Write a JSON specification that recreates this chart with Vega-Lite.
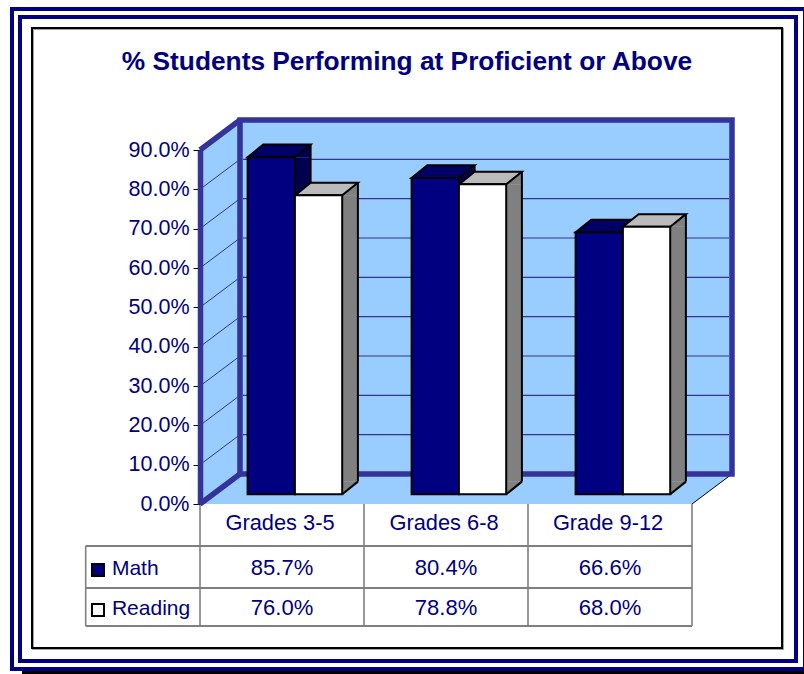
{"$schema":"https://vega.github.io/schema/vega-lite/v6.json","width":492,"height":354,"autosize":{"type":"none"},"padding":{"left":200,"top":150,"right":112,"bottom":170},"background":"white","config":{"view":{"stroke":null},"font":"Liberation Sans"},"title":{"text":"% Students Performing at Proficient or Above","anchor":"middle","dx":-39,"offset":-68,"fontSize":26.3,"fontWeight":"bold","color":"#000080","font":"Liberation Sans"},"datasets":{"bars":[{"grade":"Grades 3-5","series":"Math","value":0.857},{"grade":"Grades 3-5","series":"Reading","value":0.76},{"grade":"Grades 6-8","series":"Math","value":0.804},{"grade":"Grades 6-8","series":"Reading","value":0.788},{"grade":"Grade 9-12","series":"Math","value":0.666},{"grade":"Grade 9-12","series":"Reading","value":0.68}],"ticks":[{"tick":0.1},{"tick":0.2},{"tick":0.3},{"tick":0.4},{"tick":0.5},{"tick":0.6},{"tick":0.7},{"tick":0.8}],"edges":[{"tick":0},{"tick":0.9}],"series":[{"series":"Math"},{"series":"Reading"}],"hlines":[{"edge":1},{"edge":2},{"edge":3}],"vlines":[{"col":0},{"col":1},{"col":2},{"col":3}],"one":[{"n":1}]},"layer":[{"data":{"name":"one"},"mark":{"type":"rect","fill":null,"stroke":"#000080","strokeWidth":4},"encoding":{"x":{"datum":0,"type":"quantitative","scale":{"domain":[0,1],"range":[-188,605]},"axis":null},"x2":{"datum":1},"y":{"datum":0,"type":"quantitative","scale":{"domain":[0,1],"range":[-141,519]},"axis":null},"y2":{"datum":1}}},{"data":{"name":"one"},"mark":{"type":"rect","fill":null,"stroke":"#000080","strokeWidth":4},"encoding":{"x":{"datum":0,"type":"quantitative","scale":{"domain":[0,1],"range":[-180,596]},"axis":null},"x2":{"datum":1},"y":{"datum":0,"type":"quantitative","scale":{"domain":[0,1],"range":[-133,511]},"axis":null},"y2":{"datum":1}}},{"data":{"name":"one"},"mark":{"type":"rect","fill":null,"stroke":"#000000","strokeWidth":3},"encoding":{"x":{"datum":0,"type":"quantitative","scale":{"domain":[0,1],"range":[-178,605]},"axis":null},"x2":{"datum":1},"y":{"datum":0,"type":"quantitative","scale":{"domain":[0,1],"range":[522.5,522.5]},"axis":null},"y2":{"datum":1}}},{"data":{"name":"one"},"mark":{"type":"rect","fill":null,"stroke":"#a0a0a0","strokeWidth":2},"encoding":{"x":{"datum":0,"type":"quantitative","scale":{"domain":[0,1],"range":[-167,583]},"axis":null},"x2":{"datum":1},"y":{"datum":0,"type":"quantitative","scale":{"domain":[0,1],"range":[-121,499]},"axis":null},"y2":{"datum":1}}},{"data":{"name":"one"},"mark":{"type":"rect","fill":null,"stroke":"#000000","strokeWidth":2},"encoding":{"x":{"datum":0,"type":"quantitative","scale":{"domain":[0,1],"range":[-168,582]},"axis":null},"x2":{"datum":1},"y":{"datum":0,"type":"quantitative","scale":{"domain":[0,1],"range":[-122,498]},"axis":null},"y2":{"datum":1}}},{"encoding":{"x":{"datum":0,"type":"quantitative","scale":{"domain":[0,3],"range":[0,492]},"axis":null}},"layer":[{"data":{"name":"one"},"mark":{"type":"point","shape":"M0,0L40,-30L532,-30L492,0Z","size":4,"filled":true,"fill":"#99CCFF","stroke":null,"opacity":1},"encoding":{"y":{"datum":0,"type":"quantitative","scale":{"domain":[0,0.9],"range":[354,0]},"axis":null}}},{"data":{"name":"one"},"mark":{"type":"point","shape":"M0,0L40,-30L40,-384L0,-354Z","size":4,"filled":true,"fill":"#99CCFF","stroke":null,"opacity":1},"encoding":{"y":{"datum":0,"type":"quantitative","axis":null}}},{"data":{"name":"one"},"mark":{"type":"point","shape":"M492,0L532,-30","size":4,"filled":false,"stroke":"#000000","strokeWidth":1,"opacity":1},"encoding":{"y":{"datum":0,"type":"quantitative","axis":null}}},{"data":{"name":"one"},"mark":{"type":"rect","fill":"#99CCFF","stroke":"#333399","strokeWidth":5.5,"xOffset":40,"x2Offset":40,"yOffset":-30,"y2Offset":-30},"encoding":{"x":{"datum":0,"type":"quantitative"},"x2":{"datum":3},"y":{"datum":0,"type":"quantitative","axis":null},"y2":{"datum":0.9}}},{"data":{"name":"ticks"},"mark":{"type":"rule","stroke":"#333399","strokeWidth":1.2,"xOffset":43,"x2Offset":37,"yOffset":-30,"y2Offset":-30},"encoding":{"x2":{"datum":3},"y":{"field":"tick","type":"quantitative","axis":null}}},{"data":{"name":"ticks"},"mark":{"type":"point","shape":"M0,0L40,-30","size":4,"filled":false,"stroke":"#333399","strokeWidth":1,"opacity":1},"encoding":{"y":{"field":"tick","type":"quantitative","axis":null}}},{"data":{"name":"edges"},"mark":{"type":"point","shape":"M0,0L40,-30","size":4,"filled":false,"stroke":"#333399","strokeWidth":5.5,"opacity":1},"encoding":{"y":{"field":"tick","type":"quantitative","axis":null}}}]},{"data":{"name":"bars"},"resolve":{"scale":{"xOffset":"independent"}},"encoding":{"x":{"field":"grade","type":"nominal","sort":null,"scale":{"domain":["Grades 3-5","Grades 6-8","Grade 9-12"],"paddingInner":0,"paddingOuter":0},"axis":{"title":null,"domain":false,"ticks":false,"labelAngle":0,"labelFontSize":21.8,"labelColor":"#000080","labelPadding":8,"labelOffset":-2,"labelFont":"Liberation Sans","zindex":1}},"xOffset":{"field":"series","type":"nominal","scale":{"type":"band","domain":["Math","Reading"],"range":[47.6,142.2],"paddingInner":0,"paddingOuter":0}}},"layer":[{"mark":{"type":"point","shape":"M23.65,0L39.35,-12.7L39.35,0Z","size":4,"filled":true,"stroke":null,"opacity":1,"yOffset":-9.7},"encoding":{"y":{"field":"value","type":"quantitative","scale":{"domain":[0,0.9],"range":[354,0]},"axis":null},"fill":{"condition":{"test":"datum.series==='Math'","value":"#000050"},"value":"#808080"}}},{"mark":{"type":"bar","width":15.7,"stroke":null,"yOffset":-9.7,"y2Offset":-22.4},"encoding":{"xOffset":{"field":"series","type":"nominal","scale":{"type":"band","domain":["Math","Reading"],"range":[79.1,173.7],"paddingInner":0,"paddingOuter":0}},"y":{"field":"value","type":"quantitative","axis":null},"y2":{"datum":0},"fill":{"condition":{"test":"datum.series==='Math'","value":"#000050"},"value":"#808080"}}},{"mark":{"type":"point","shape":"M23.65,0L39.35,-12.7L23.65,-12.7Z","size":4,"filled":true,"stroke":null,"opacity":1,"yOffset":-9.7},"encoding":{"y":{"datum":0,"type":"quantitative","axis":null},"fill":{"condition":{"test":"datum.series==='Math'","value":"#000050"},"value":"#808080"}}},{"mark":{"type":"point","shape":"M23.65,0L39.35,-12.7","size":4,"filled":false,"stroke":"#000000","strokeWidth":2,"opacity":1,"yOffset":-9.7},"encoding":{"y":{"datum":0,"type":"quantitative","axis":null}}},{"mark":{"type":"rule","stroke":"#000000","strokeWidth":2,"yOffset":-22.4,"y2Offset":-22.4},"encoding":{"xOffset":{"field":"series","type":"nominal","scale":{"type":"band","domain":["Math","Reading"],"range":[86.95,181.55],"paddingInner":0,"paddingOuter":0}},"y":{"field":"value","type":"quantitative","axis":null},"y2":{"datum":0}}},{"mark":{"type":"point","shape":"M-23.65,0L23.65,0L39.35,-12.7L-7.95,-12.7Z","size":4,"filled":true,"stroke":"#000000","strokeWidth":2,"opacity":1,"yOffset":-9.7},"encoding":{"y":{"field":"value","type":"quantitative","axis":null},"fill":{"condition":{"test":"datum.series==='Math'","value":"#000066"},"value":"#BBBBBB"}}},{"mark":{"type":"bar","stroke":"#000000","strokeWidth":2,"yOffset":-9.7,"y2Offset":-9.7},"encoding":{"y":{"field":"value","type":"quantitative","axis":null},"y2":{"datum":0},"fill":{"condition":{"test":"datum.series==='Math'","value":"#000080"},"value":"#FFFFFF"}}}]},{"layer":[{"data":{"name":"hlines"},"mark":{"type":"rule","stroke":"#000000","strokeWidth":1.2},"encoding":{"x":{"datum":-0.697,"type":"quantitative","scale":{"domain":[-0.697,3],"range":[-114.3,492],"nice":false},"axis":null},"x2":{"datum":3},"y":{"field":"edge","type":"quantitative","scale":{"domain":[0,1,2,3],"range":[354,396,438,476],"nice":false},"axis":null}}},{"data":{"name":"vlines"},"mark":{"type":"rule","stroke":"#808080","strokeWidth":1.6},"encoding":{"x":{"field":"col","type":"quantitative","axis":null},"y":{"datum":0,"type":"quantitative","axis":null},"y2":{"datum":3}}},{"data":{"name":"one"},"mark":{"type":"rule","stroke":"#808080","strokeWidth":1.6},"encoding":{"x":{"datum":-0.697,"type":"quantitative","axis":null},"y":{"datum":1,"type":"quantitative","axis":null},"y2":{"datum":3}}}]},{"data":{"name":"bars"},"mark":{"type":"text","fontSize":22,"color":"#000080","font":"Liberation Sans","baseline":"middle"},"encoding":{"x":{"field":"grade","type":"nominal","scale":{"domain":["Grades 3-5","Grades 6-8","Grade 9-12"],"paddingInner":0,"paddingOuter":0},"axis":null},"y":{"field":"series","type":"nominal","scale":{"type":"point","padding":0,"domain":["Math","Reading"],"range":[418,458]},"axis":null},"text":{"field":"value","type":"quantitative","format":".1%"}}},{"data":{"name":"series"},"encoding":{"x":{"datum":-0.622,"type":"quantitative","scale":{"domain":[-1,3],"range":[-164,492]},"axis":null},"y":{"field":"series","type":"nominal","scale":{"type":"point","padding":0,"domain":["Math","Reading"],"range":[420,460]},"axis":null}},"layer":[{"mark":{"type":"square","size":144,"stroke":"#000000","strokeWidth":2,"opacity":1},"encoding":{"fill":{"condition":{"test":"datum.series==='Math'","value":"#000080"},"value":"#FFFFFF"}}},{"mark":{"type":"text","align":"left","baseline":"middle","fontSize":21,"color":"#000080","font":"Liberation Sans","yOffset":-1},"encoding":{"x":{"datum":-0.537,"type":"quantitative"},"text":{"field":"series","type":"nominal"}}}]},{"data":{"name":"edges"},"mark":{"type":"rule","opacity":0},"encoding":{"y":{"field":"tick","type":"quantitative","scale":{"domain":[0,0.9],"range":[354,0]},"axis":{"title":null,"values":[0,0.1,0.2,0.3,0.4,0.5,0.6,0.7,0.8,0.9],"format":".1%","grid":false,"labelFontSize":21.5,"labelColor":"#000080","labelFont":"Liberation Sans","labelPadding":4,"tickColor":"#000000","tickSize":7,"domainColor":"#333399","domainWidth":5.5,"zindex":1}}}}],"resolve":{"scale":{"x":"independent","y":"independent","xOffset":"independent"}}}
